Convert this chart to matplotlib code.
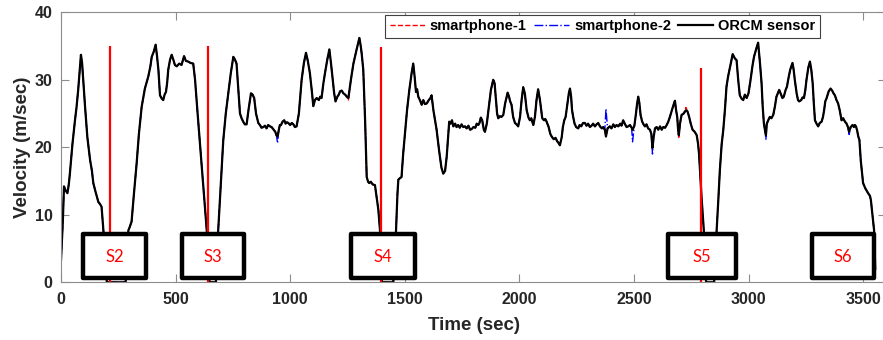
import numpy as np
import matplotlib
matplotlib.use('Agg')
import matplotlib.pyplot as plt
from matplotlib.patches import Rectangle

plt.rcParams['font.family'] = ['Liberation Sans', 'DejaVu Sans']

# ORCM sensor speed trace (time in sec, velocity in m/sec)
time_s = [
    0, 8, 13, 20, 28, 34, 39, 50, 61, 68, 75, 82, 87, 92, 97, 105, 115, 127, 135, 141,
    150, 163, 170, 177, 185, 200, 230, 260, 282, 294, 300, 308, 318, 330, 340, 352, 366, 381, 390, 396,
    405, 413, 419, 425, 432, 440, 446, 452, 458, 463, 468, 476, 483, 490, 497, 505, 516, 526, 537, 545,
    555, 565, 577, 585, 595, 606, 618, 636, 648, 662, 676, 686, 697, 708, 719, 730, 741, 752, 759, 766,
    773, 781, 788, 795, 802, 810, 818, 829, 836, 843, 851, 861, 868, 875, 883, 890, 897, 904, 912, 919,
    926, 935, 940, 945, 950, 955, 960, 967, 974, 980, 986, 992, 1000, 1007, 1014, 1021, 1028, 1038, 1050, 1060,
    1069, 1077, 1086, 1094, 1101, 1108, 1116, 1125, 1131, 1137, 1145, 1152, 1162, 1171, 1178, 1185, 1192, 1198, 1206, 1212,
    1218, 1225, 1232, 1240, 1247, 1254, 1265, 1276, 1290, 1302, 1308, 1312, 1319, 1327, 1334, 1340, 1345, 1352, 1360, 1370,
    1385, 1392, 1400, 1425, 1450, 1462, 1468, 1472, 1478, 1486, 1493, 1501, 1510, 1520, 1530, 1537, 1543, 1549, 1554, 1559,
    1566, 1574, 1581, 1588, 1596, 1605, 1612, 1617, 1625, 1632, 1639, 1650, 1660, 1668, 1676, 1683, 1694, 1700, 1706, 1712,
    1720, 1726, 1733, 1740, 1748, 1755, 1763, 1770, 1778, 1785, 1792, 1800, 1808, 1814, 1821, 1826, 1832, 1838, 1845, 1850,
    1858, 1867, 1876, 1886, 1892, 1898, 1903, 1908, 1915, 1922, 1930, 1938, 1949, 1955, 1960, 1966, 1973, 1981, 1988, 1995,
    2003, 2010, 2017, 2024, 2032, 2040, 2046, 2052, 2061, 2068, 2075, 2082, 2090, 2100, 2108, 2113, 2119, 2128, 2135, 2141,
    2150, 2158, 2165, 2172, 2177, 2185, 2190, 2196, 2202, 2210, 2216, 2221, 2226, 2230, 2235, 2241, 2248, 2257, 2263, 2270,
    2278, 2286, 2293, 2300, 2308, 2315, 2322, 2330, 2337, 2344, 2352, 2360, 2366, 2373, 2378, 2385, 2395, 2402, 2410, 2417,
    2424, 2432, 2440, 2446, 2453, 2460, 2468, 2475, 2483, 2490, 2494, 2502, 2509, 2514, 2519, 2524, 2529, 2536, 2542, 2548,
    2555, 2562, 2570, 2576, 2581, 2586, 2592, 2599, 2606, 2614, 2621, 2628, 2636, 2643, 2650, 2657, 2664, 2672, 2679, 2684,
    2689, 2693, 2696, 2701, 2708, 2717, 2727, 2734, 2741, 2748, 2756, 2765, 2774, 2780, 2784, 2795, 2805, 2815, 2832, 2850,
    2861, 2868, 2875, 2883, 2890, 2897, 2904, 2911, 2920, 2931, 2940, 2948, 2955, 2962, 2970, 2977, 2984, 2992, 3000, 3009,
    3017, 3024, 3033, 3042, 3050, 3057, 3062, 3067, 3072, 3076, 3080, 3086, 3093, 3100, 3108, 3115, 3122, 3128, 3134, 3142,
    3148, 3154, 3162, 3168, 3173, 3182, 3192, 3197, 3202, 3210, 3216, 3221, 3230, 3236, 3242, 3248, 3253, 3261, 3268, 3274,
    3280, 3285, 3290, 3297, 3304, 3311, 3319, 3325, 3330, 3335, 3341, 3350, 3358, 3365, 3371, 3377, 3384, 3391, 3398, 3406,
    3413, 3421, 3428, 3434, 3439, 3446, 3454, 3460, 3464, 3469, 3474, 3479, 3484, 3490, 3500, 3510, 3522, 3530, 3534, 3544,
    3548, 3551, 3553,
]
orcm_speed = [
    3.3, 9.0, 14.2, 13.6, 13.2, 14.5, 16.2, 20.5, 24.0, 26.0, 28.5, 31.5, 33.7, 32.5, 30.0, 26.0, 21.5, 18.1, 16.5, 14.7,
    13.5, 11.9, 11.6, 11.2, 7.7, 0.0, 0.0, 0.0, 0.0, 7.7, 8.2, 9.0, 13.0, 17.6, 22.0, 26.0, 28.7, 30.5, 32.0, 33.4,
    34.2, 35.2, 33.5, 31.5, 27.7, 27.2, 27.0, 27.8, 28.2, 29.5, 31.5, 33.0, 33.7, 33.0, 32.2, 32.0, 32.4, 32.2, 33.5, 32.8,
    32.7, 32.5, 32.4, 30.0, 25.5, 20.8, 15.5, 7.7, 0.0, 0.0, 0.0, 7.7, 14.5, 21.0, 25.0, 28.0, 31.0, 33.4, 33.0, 32.4,
    29.0, 25.0, 24.3, 23.8, 23.4, 23.4, 25.5, 28.0, 27.8, 27.3, 25.0, 23.6, 23.3, 22.9, 23.0, 23.2, 22.8, 23.3, 23.1, 23.0,
    22.7, 22.3, 21.8, 21.6, 22.5, 23.3, 23.3, 23.8, 24.0, 23.5, 23.7, 23.6, 23.3, 23.6, 23.4, 23.0, 23.1, 25.0, 30.0, 32.5,
    34.0, 32.8, 31.0, 28.5, 26.1, 27.0, 27.3, 27.0, 27.5, 27.3, 29.5, 31.0, 33.0, 34.5, 32.5, 30.2, 28.0, 26.8, 27.5, 27.8,
    28.3, 28.4, 28.0, 27.8, 27.5, 27.3, 30.0, 32.4, 34.5, 36.2, 35.0, 33.9, 31.5, 24.0, 15.6, 14.9, 14.7, 14.9, 14.5, 14.4,
    10.7, 7.7, 0.0, 0.0, 0.0, 7.7, 13.0, 15.2, 15.4, 15.6, 19.0, 22.1, 25.5, 28.5, 31.0, 32.4, 30.5, 28.2, 28.6, 27.5,
    27.0, 26.3, 27.0, 26.4, 26.5, 27.0, 27.3, 27.7, 25.5, 24.0, 22.6, 19.5, 17.0, 16.1, 16.5, 18.6, 23.8, 23.5, 24.0, 23.1,
    23.5, 23.0, 23.3, 22.9, 23.4, 23.0, 23.1, 22.8, 23.2, 22.6, 22.7, 23.0, 22.9, 23.5, 23.3, 23.6, 24.4, 24.0, 22.6, 22.3,
    23.5, 26.0, 28.5, 30.0, 29.5, 27.0, 25.0, 24.3, 24.6, 24.5, 24.8, 26.5, 28.1, 27.5, 26.8, 26.3, 24.5, 23.6, 23.4, 23.1,
    24.5, 27.0, 28.9, 28.0, 25.5, 24.4, 24.0, 24.3, 23.3, 24.5, 27.0, 28.6, 27.0, 24.3, 24.0, 24.2, 23.8, 23.0, 22.0, 21.6,
    21.2, 21.4, 20.9, 20.6, 20.3, 21.5, 23.0, 24.0, 24.5, 26.5, 28.0, 28.7, 27.5, 25.5, 24.5, 23.5, 23.0, 22.8, 23.3, 23.1,
    23.6, 23.6, 23.2, 23.5, 23.0, 23.2, 23.5, 23.1, 23.4, 23.6, 23.1, 22.8, 23.0, 22.6, 21.6, 22.8, 23.1, 22.8, 23.4, 23.0,
    23.3, 23.1, 23.5, 23.2, 24.0, 23.5, 23.0, 23.1, 23.3, 22.9, 22.6, 23.2, 25.0, 26.5, 27.5, 26.5, 24.8, 23.8, 23.4, 23.1,
    23.4, 22.8, 22.6, 22.0, 19.9, 21.5, 22.8, 23.0, 22.6, 23.1, 22.6, 23.0, 22.9, 23.3, 23.8, 24.5, 25.3, 26.2, 26.9, 25.5,
    24.5, 22.5, 21.8, 23.5, 24.8, 25.0, 25.5, 25.3, 24.5, 23.5, 22.6, 22.3, 21.8, 20.5, 19.1, 12.7, 7.7, 0.0, 0.0, 0.0,
    7.7, 12.0, 16.6, 20.5, 22.6, 25.5, 29.0, 30.5, 32.0, 33.8, 33.2, 32.9, 30.0, 27.7, 27.2, 27.0, 27.8, 27.3, 28.0, 30.0,
    32.0, 33.4, 34.5, 35.5, 32.5, 29.5, 26.0, 23.6, 22.5, 21.8, 23.5, 24.0, 24.5, 24.3, 24.8, 26.0, 27.5, 28.0, 28.5, 27.8,
    27.3, 27.5, 28.5, 29.0, 30.0, 31.5, 32.5, 31.5, 30.0, 28.0, 27.0, 26.8, 27.0, 27.4, 27.3, 28.5, 30.0, 31.8, 32.7, 31.5,
    29.5, 26.5, 24.0, 23.5, 23.1, 23.6, 23.8, 24.5, 25.5, 26.8, 27.3, 28.3, 28.7, 28.4, 28.0, 27.7, 27.0, 26.5, 25.5, 24.0,
    24.3, 23.8, 23.5, 23.0, 22.3, 23.0, 23.3, 23.0, 23.3, 23.1, 22.5, 21.6, 21.1, 18.0, 14.7, 13.9, 13.2, 12.8, 12.2, 9.0,
    7.7, 4.0, 2.0,
]

# smartphone readings where they part from the ORCM trace (time -> velocity)
phone1_diff = {1254: 27.0, 2696: 21.3, 2727: 25.9}
phone2_diff = {0: 2.6, 945: 20.6, 2378: 25.7, 2494: 20.8, 2581: 19.0, 3076: 21.2, 3439: 21.9}

# stop markers
stop_labels = ['S2', 'S3', 'S4', 'S5', 'S6']
stop_boxes = [(95, 372), (528, 797), (1265, 1543), (2647, 2944), (3277, 3547)]
marker_times = [214, 641, 1396, 2791]
marker_tops = [35.0, 35.0, 34.9, 31.7]

t = np.array(time_s, dtype=float)
v_orcm = np.array(orcm_speed)
v_phone1 = v_orcm.copy()
for k, val in phone1_diff.items():
    v_phone1[t == k] = val
v_phone2 = v_orcm.copy()
for k, val in phone2_diff.items():
    v_phone2[t == k] = val

text_col = '#262626'
axis_col = '#8c8c8c'

fig = plt.figure(figsize=(8.83, 3.40), dpi=100)
ax = fig.add_axes([61 / 883, 1 - 282.3 / 340, 825 / 883, 270 / 340])

ax.plot(t, v_phone1, color='red', linestyle='--', lw=1.0, label='smartphone-1')
ax.plot(t, v_phone2, color='blue', linestyle='-.', lw=1.0, label='smartphone-2')
ax.plot(t, v_orcm, color='black', linestyle='-', lw=1.6, label='ORCM sensor')

ax.vlines(marker_times, 0, marker_tops, colors='red', lw=1.6, zorder=4)

box_bottom, box_top = 0.62, 7.15
for name, (t0, t1) in zip(stop_labels, stop_boxes):
    ax.add_patch(Rectangle((t0, box_bottom), t1 - t0, box_top - box_bottom,
                           facecolor='white', edgecolor='black', lw=3.2,
                           joinstyle='round', clip_on=False, zorder=5))
    ax.text((t0 + t1) / 2, (box_bottom + box_top) / 2 - 0.2, name, color='red',
            fontsize=12, family=['Lato', 'DejaVu Sans'],
            ha='center', va='center', zorder=6)

ax.set_xlim(0, 3600)
ax.set_ylim(0, 40)
ax.set_xticks(np.arange(0, 3501, 500))
ax.set_yticks(np.arange(0, 41, 10))

for side in ['left', 'bottom', 'top', 'right']:
    ax.spines[side].set_color(axis_col)
    ax.spines[side].set_linewidth(0.8)
ax.tick_params(axis='both', direction='in', length=5.5, width=0.8, color=axis_col,
               top=True, right=True, labelsize=11.5, labelcolor=text_col)
ax.tick_params(axis='x', pad=7)
ax.tick_params(axis='y', pad=6)
for lbl in ax.get_xticklabels() + ax.get_yticklabels():
    lbl.set_fontweight('bold')

ax.set_xlabel('Time (sec)', fontsize=13.5, fontweight='bold', color=text_col, labelpad=7)
ax.set_ylabel('Velocity (m/sec)', fontsize=13.5, fontweight='bold', color=text_col, labelpad=3)

leg = ax.legend(loc='upper right', bbox_to_anchor=(820 / 883, 1 - 15 / 340),
                bbox_transform=fig.transFigure, ncol=3, fancybox=False,
                edgecolor='#404040', framealpha=1, borderaxespad=0,
                prop={'weight': 'bold', 'size': 10.5},
                handlelength=2.4, handletextpad=0.35, columnspacing=0.5, borderpad=0.3)
leg.get_frame().set_linewidth(0.8)
leg.set_zorder(7)

fig.savefig('out.png', dpi=100)
